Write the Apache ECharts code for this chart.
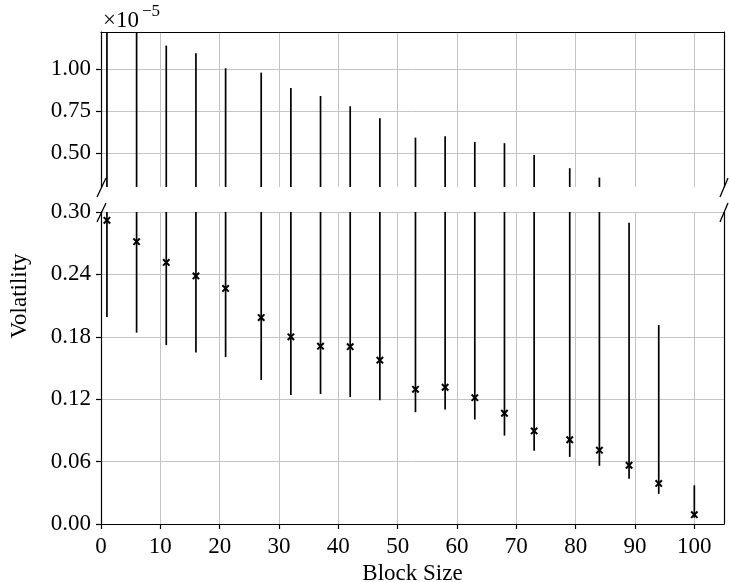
<!DOCTYPE html>
<html>
<head>
<meta charset="utf-8">
<script src="https://cdn.jsdelivr.net/npm/echarts@6/dist/echarts.min.js"></script>
<style>
  html, body { margin: 0; padding: 0; background: #fff; }
  #main { width: 729px; height: 582px; }
</style>
</head>
<body>
<div id="main"></div>
<script>
  // block sizes and the estimated volatility at each one
  var blockSize = [1, 6, 11, 16, 21, 27, 32, 37, 42, 47, 53, 58, 63, 68, 73, 79, 84, 89, 94, 100]
  var volatility = [0.292, 0.2715, 0.2515, 0.2385, 0.2265, 0.1985, 0.180, 0.171, 0.1705, 0.1575,
    0.1295, 0.1315, 0.1215, 0.1065, 0.0895, 0.081, 0.071, 0.0565, 0.039, 0.009]
  var lowerBound = [0.199, 0.184, 0.172, 0.165, 0.1605, 0.1385, 0.124, 0.125, 0.122, 0.119,
    0.1075, 0.110, 0.1005, 0.085, 0.0705, 0.0645, 0.056, 0.0435, 0.029, 0.006]
  // upper ends that stay in the lower panel (null = bar goes on past the break)
  var upperBoundLow = [null, null, null, null, null, null, null, null, null, null,
    null, null, null, null, null, null, null, 0.2897, 0.1913, 0.0372]
  // upper ends shown in the top panel, in units of 1e-5
  var upperBoundTop = [1.30, 1.26, 1.139, 1.093, 1.004, 0.978, 0.887, 0.839, 0.778, 0.707,
    0.591, 0.599, 0.565, 0.558, 0.488, 0.409, 0.353, null, null, null]

  var xTicks = [0, 10, 20, 30, 40, 50, 60, 70, 80, 90, 100]
  var lowTicks = [0, 0.06, 0.12, 0.18, 0.24, 0.30]
  var topTicks = [0.50, 0.75, 1.00]
  var lowRange = [0, 0.30]
  var topRange = [0.297, 1.22]

  var font = '"Liberation Serif", "DejaVu Serif", serif'
  var black = '#000'
  var gridColor = '#c4c4c4'
  var fs = 23

  var lowData = []
  var topData = []
  for (var i = 0; i < blockSize.length; i++) {
    var hiLow = upperBoundLow[i] != null ? upperBoundLow[i] : lowRange[1]
    lowData.push([blockSize[i], lowerBound[i], hiLow, volatility[i]])
    if (upperBoundTop[i] != null) {
      topData.push([blockSize[i], topRange[0], Math.min(upperBoundTop[i], topRange[1]), NaN])
    }
  }

  function drawBar(params, api) {
    var x = api.value(0)
    var p1 = api.coord([x, api.value(1)])
    var p2 = api.coord([x, api.value(2)])
    var children = [{
      type: 'line',
      shape: { x1: p1[0], y1: p1[1], x2: p2[0], y2: p2[1] },
      style: { stroke: black, lineWidth: 1.7 }
    }]
    var mid = api.value(3)
    if (!isNaN(mid)) {
      var c = api.coord([x, mid])
      var s = 3.2
      children.push({
        type: 'line',
        shape: { x1: c[0] - s, y1: c[1] - s, x2: c[0] + s, y2: c[1] + s },
        style: { stroke: black, lineWidth: 2 }
      })
      children.push({
        type: 'line',
        shape: { x1: c[0] - s, y1: c[1] + s, x2: c[0] + s, y2: c[1] - s },
        style: { stroke: black, lineWidth: 2 }
      })
    }
    return { type: 'group', children: children }
  }

  function xAxisFor(gridIndex, isBottom) {
    return {
      type: 'value',
      gridIndex: gridIndex,
      position: isBottom ? 'bottom' : 'top',
      min: 0,
      max: 105,
      interval: 10,
      axisLine: { show: true, onZero: false, lineStyle: { color: black, width: 1.2 } },
      axisTick: { show: isBottom, inside: false, length: 5, customValues: xTicks, lineStyle: { color: black, width: 1.2 } },
      axisLabel: {
        show: isBottom, customValues: xTicks, margin: 11,
        color: black, fontFamily: font, fontSize: fs
      },
      splitLine: { show: true, lineStyle: { color: gridColor, width: 1 } },
      name: isBottom ? 'Block Size' : '',
      nameLocation: 'middle',
      nameGap: 37,
      nameTextStyle: { color: black, fontFamily: font, fontSize: fs }
    }
  }

  function rightSpine(gridIndex, range) {
    return {
      type: 'value',
      gridIndex: gridIndex,
      position: 'right',
      min: range[0],
      max: range[1],
      axisLine: { show: true, onZero: false, lineStyle: { color: black, width: 1.2 } },
      axisTick: { show: false },
      axisLabel: { show: false },
      splitLine: { show: false }
    }
  }

  var chart = echarts.init(document.getElementById('main'), null, { renderer: 'canvas' })
  chart.setOption({
    animation: false,
    backgroundColor: '#fff',
    grid: [
      { left: 101, right: 5, top: 32, height: 155, outerBoundsMode: 'none' },
      { left: 101, right: 5, top: 212, height: 312, outerBoundsMode: 'none' }
    ],
    xAxis: [xAxisFor(0, false), xAxisFor(1, true)],
    yAxis: [
      {
        type: 'value',
        gridIndex: 0,
        min: topRange[0],
        max: topRange[1],
        axisLine: { show: true, onZero: false, lineStyle: { color: black, width: 1.2 } },
        axisTick: { show: true, length: 5, customValues: topTicks, lineStyle: { color: black, width: 1.2 } },
        axisLabel: {
          customValues: topTicks, margin: 10, color: black, fontFamily: font, fontSize: fs,
          formatter: function (v) { return v.toFixed(2) }
        },
        splitLine: { show: true, lineStyle: { color: gridColor, width: 1 } }
      },
      {
        type: 'value',
        gridIndex: 1,
        min: lowRange[0],
        max: lowRange[1],
        interval: 0.06,
        axisLine: { show: true, onZero: false, lineStyle: { color: black, width: 1.2 } },
        axisTick: { show: true, length: 5, customValues: lowTicks, lineStyle: { color: black, width: 1.2 } },
        axisLabel: {
          customValues: lowTicks, margin: 10, color: black, fontFamily: font, fontSize: fs,
          formatter: function (v) { return v.toFixed(2) }
        },
        splitLine: { show: true, lineStyle: { color: gridColor, width: 1 } }
      },
      rightSpine(0, topRange),
      rightSpine(1, lowRange)
    ],
    series: [
      {
        type: 'custom',
        xAxisIndex: 0,
        yAxisIndex: 0,
        renderItem: drawBar,
        data: topData,
        z: 5
      },
      {
        type: 'custom',
        xAxisIndex: 1,
        yAxisIndex: 1,
        renderItem: drawBar,
        data: lowData,
        z: 5
      }
    ],
    graphic: [
      { type: 'line', shape: { x1: 97, y1: 197, x2: 106, y2: 178 }, style: { stroke: black, lineWidth: 1.3 }, z: 10 },
      { type: 'line', shape: { x1: 720, y1: 197, x2: 728, y2: 178 }, style: { stroke: black, lineWidth: 1.3 }, z: 10 },
      { type: 'line', shape: { x1: 97, y1: 222, x2: 106, y2: 203 }, style: { stroke: black, lineWidth: 1.3 }, z: 10 },
      { type: 'line', shape: { x1: 720, y1: 222, x2: 728, y2: 203 }, style: { stroke: black, lineWidth: 1.3 }, z: 10 },
      {
        type: 'text', left: 103, top: 9,
        style: { text: '×10', fill: black, font: fs + 'px ' + font }
      },
      {
        type: 'text', left: 142, top: 3,
        style: { text: '−5', fill: black, font: '17px ' + font }
      },
      {
        type: 'text', x: 20, y: 296, rotation: Math.PI / 2,
        style: { text: 'Volatility', fill: black, font: fs + 'px ' + font, align: 'center', verticalAlign: 'middle' }
      }
    ]
  })
</script>
</body>
</html>
